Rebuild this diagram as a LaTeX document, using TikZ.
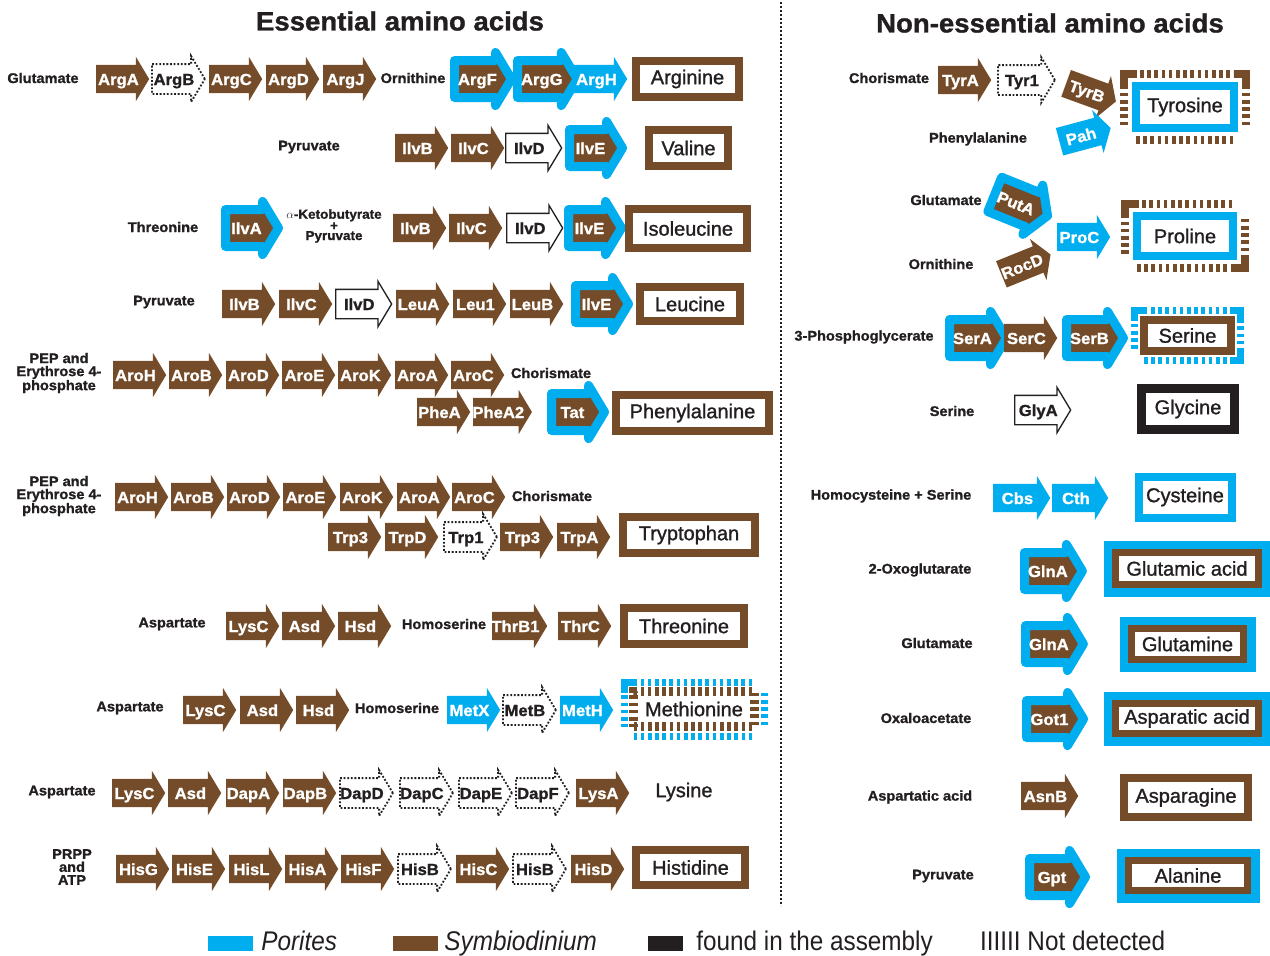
\documentclass[tikz,border=0pt]{standalone}
\usepackage{fontspec}
\setmainfont{Liberation Sans}
\newfontfamily\boxfont{Liberation Sans}[FakeBold=1.2]
\newfontfamily\heavyfont{Liberation Sans Bold}[FakeBold=1.2, FakeStretch=1.04]
\newfontfamily\legfont{Liberation Sans}[FakeStretch=0.9]
\usetikzlibrary{shapes.arrows,positioning}

\definecolor{porites}{RGB}{0,173,238}
\definecolor{symb}{RGB}{117,76,41}
\definecolor{ink}{RGB}{35,31,32}

\tikzset{
	enz/.style={single arrow, single arrow head extend=8pt, single arrow tip angle=118,
		minimum height=53pt, minimum width=0pt, inner xsep=-1pt, inner ysep=8pt,
		text height=12pt, text depth=0pt, text=white, anchor=west,
		font=\heavyfont\fontsize{16}{16}\selectfont},
	sym/.style={enz, fill=symb},
	por/.style={enz, fill=porites},
	both/.style={enz, fill=symb, draw=porites, line width=9pt, line join=round},
	asm/.style={enz, fill=white, draw=ink, line width=1.3pt, text=ink, minimum height=56pt},
	nd/.style={enz, fill=white, draw=ink, line width=1.8pt, dash pattern=on 1.8pt off 1.8pt, text=ink},
	met/.style={font=\heavyfont\fontsize{14}{13}\selectfont, align=center, text=ink, inner sep=0pt},
	title/.style={font=\heavyfont\fontsize{26.5}{27}\selectfont, text=ink},
	prod/.style={rectangle, inner sep=0pt, font=\boxfont\fontsize{20}{20}\selectfont, text=ink},
	sym box/.style={prod, fill=white, draw=symb, line width=8pt},
	por box/.style={prod, fill=white, draw=porites, line width=8pt},
	asm box/.style={prod, fill=white, draw=ink, line width=9pt},
	nd box/.style={prod, fill=white, draw=symb, line width=9pt, dash pattern=on 3.6pt off 3.6pt},
	por ring/.style={preaction={draw=porites, line width=24pt}},
	sym nd ring/.style={preaction={draw=symb, line width=32pt, dash pattern=on 3.6pt off 3.6pt},
		preaction={draw=white, solid, line width=16pt}},
	por nd ring/.style={preaction={draw=porites, line width=26pt, dash pattern=on 3.6pt off 3.6pt},
		preaction={draw=white, solid, line width=12pt}},
	swatch/.style={rectangle, inner sep=0pt, minimum width=45pt, minimum height=15pt},
	key/.style={inner sep=0pt, font=\legfont\fontsize{27}{27}\selectfont, text=ink,
		text height=18pt, text depth=5pt}
}

\begin{document}
\begin{tikzpicture}[x=1pt, y=-1pt]

	\useasboundingbox (0,0) rectangle (1270,956);

	\node[title] (ess) at (400,21) {Essential amino acids};
	\node[title] (ness) at (1050,23) {Non-essential amino acids};
	\coordinate (sepTop) at (781,2);
	\coordinate (sepBot) at (781,906);
	\draw[ink, line width=2pt, dash pattern=on 2pt off 2pt] (sepTop) -- (sepBot);

	% arginine
	\node[met] (gluR) at (43,78) {Glutamate};
	\foreach \s/\n/\t/\x in {sym/argA/ArgA/96, nd/argB/ArgB/151, sym/argC/ArgC/209, sym/argD/ArgD/266,
		sym/argJ/ArgJ/323, both/argF/ArgF/450, both/argG/ArgG/513, por/argH/ArgH/574}
		\node[\s] (\n) at (\x,79) {\t};
	\node[met] (ornR) at (413,78) {Ornithine};
	\node[sym box, minimum width=103pt, minimum height=36pt] (arg) at (687.5,79) {Arginine};

	% valine
	\node[met] (pyrV) at (309,147) {Pyruvate};
	\foreach \s/\n/\t/\x in {sym/valB/IlvB/395, sym/valC/IlvC/451, asm/valD/IlvD/505, both/valE/IlvE/565}
		\node[\s] (\n) at (\x,148) {\t};
	\node[sym box, minimum width=79pt, minimum height=36pt] (val) at (688.5,148) {Valine};

	% isoleucine
	\node[met] (thrI) at (163,227) {Threonine};
	\node[both] (ileA) at (221,228) {IlvA};
	\node[met, font=\heavyfont\fontsize{13}{10}\selectfont] (keto) at (334,226) {$\alpha$-Ketobutyrate\\+\\Pyruvate};
	\foreach \s/\n/\t/\x in {sym/ileB/IlvB/393, sym/ileC/IlvC/449, asm/ileD/IlvD/506, both/ileE/IlvE/564}
		\node[\s] (\n) at (\x,228) {\t};
	\node[sym box, minimum width=118pt, minimum height=39pt] (ile) at (688,228.5) {Isoleucine};

	% leucine
	\node[met] (pyrL) at (164,302) {Pyruvate};
	\foreach \s/\n/\t/\x in {sym/leuIB/IlvB/222, sym/leuIC/IlvC/279, asm/leuID/IlvD/335, sym/leuA/LeuA/396,
		sym/leu1/Leu1/453, sym/leuB/LeuB/510, both/leuIE/IlvE/571}
		\node[\s] (\n) at (\x,304) {\t};
	\node[sym box, minimum width=100pt, minimum height=34pt] (leu) at (690,304) {Leucine};

	% phenylalanine
	\node[met] (pepF) at (59,373) {PEP and\\Erythrose 4-\\phosphate};
	\foreach \s/\n/\t/\x in {sym/fAroH/AroH/113, sym/fAroB/AroB/169, sym/fAroD/AroD/226, sym/fAroE/AroE/282,
		sym/fAroK/AroK/338, sym/fAroA/AroA/395, sym/fAroC/AroC/451}
		\node[\s] (\n) at (\x,375) {\t};
	\node[met] (chF) at (551,373) {Chorismate};
	\foreach \s/\n/\t/\x in {sym/pheA/PheA/417, sym/pheA2/PheA2/473, both/tat/Tat/547}
		\node[\s] (\n) at (\x,412) {\t};
	\node[sym box, minimum width=153pt, minimum height=36pt] (phe) at (692.5,413) {Phenylalanine};

	% tryptophan
	\node[met] (pepW) at (59,496) {PEP and\\Erythrose 4-\\phosphate};
	\foreach \s/\n/\t/\x in {sym/wAroH/AroH/115, sym/wAroB/AroB/171, sym/wAroD/AroD/227, sym/wAroE/AroE/283,
		sym/wAroK/AroK/340, sym/wAroA/AroA/397, sym/wAroC/AroC/452}
		\node[\s] (\n) at (\x,497) {\t};
	\node[met] (chW) at (552,496) {Chorismate};
	\foreach \s/\n/\t/\x in {sym/trp3a/Trp3/328, sym/trpD/TrpD/385, nd/trp1/Trp1/443, sym/trp3b/Trp3/500,
		sym/trpA/TrpA/557}
		\node[\s] (\n) at (\x,537) {\t};
	\node[sym box, minimum width=132pt, minimum height=36pt] (trp) at (689,535) {Tryptophan};

	% threonine
	\node[met] (aspT) at (172,624) {Aspartate};
	\foreach \s/\n/\t/\x in {sym/tLysC/LysC/226, sym/tAsd/Asd/282, sym/tHsd/Hsd/338, sym/thrB1/ThrB1/492,
		sym/thrC/ThrC/558}
		\node[\s] (\n) at (\x,626) {\t};
	\node[met] (hseT) at (444,624) {Homoserine};
	\node[sym box, minimum width=120pt, minimum height=36pt] (thr) at (684,626) {Threonine};

	% methionine
	\node[met] (aspM) at (130,708) {Aspartate};
	\foreach \s/\n/\t/\x in {sym/mLysC/LysC/183, sym/mAsd/Asd/240, sym/mHsd/Hsd/296, por/metX/MetX/447,
		nd/metB/MetB/502, por/metH/MetH/560}
		\node[\s] (\n) at (\x,710) {\t};
	\node[met] (hseM) at (397,708) {Homoserine};
	\node[nd box, por nd ring, minimum width=121pt, minimum height=35pt] (met) at (694,709) {Methionine};

	% lysine
	\node[met] (aspK) at (62,792) {Aspartate};
	\foreach \s/\n/\t/\x in {sym/kLysC/LysC/112, sym/kAsd/Asd/168, sym/dapA/DapA/226, sym/dapB/DapB/283,
		nd/dapD/DapD/339, nd/dapC/DapC/399, nd/dapE/DapE/458, nd/dapF/DapF/515, sym/lysA/LysA/576}
		\node[\s] (\n) at (\x,793) {\t};
	\node[prod] (lys) at (684,792) {Lysine};

	% histidine
	\node[met] (prpp) at (72,867) {PRPP\\and\\ATP};
	\foreach \s/\n/\t/\x in {sym/hisG/HisG/116, sym/hisE/HisE/172, sym/hisL/HisL/229, sym/hisA/HisA/285,
		sym/hisF/HisF/341, nd/hisB1/HisB/397, sym/hisC/HisC/456, nd/hisB2/HisB/512, sym/hisD/HisD/571}
		\node[\s] (\n) at (\x,869) {\t};
	\node[sym box, minimum width=109pt, minimum height=35pt] (his) at (690.5,867.5) {Histidine};

	% tyrosine
	\node[met] (chY) at (889,78) {Chorismate};
	\node[sym] (tyrA) at (938,80) {TyrA};
	\node[nd, minimum height=57pt] (tyr1) at (997,80) {Tyr1};
	\node[sym, anchor=center, rotate=-20] (tyrB) at (1087,91) {TyrB};
	\node[met] (pheY) at (978,139) {Phenylalanine};
	\node[por, anchor=center, rotate=15] (pah) at (1081,136) {Pah};
	\node[por box, sym nd ring, minimum width=98pt, minimum height=42pt] (tyr) at (1185,107) {Tyrosine};

	% proline
	\node[met] (gluP) at (946,200) {Glutamate};
	\node[met] (ornP) at (941,264) {Ornithine};
	\node[both, anchor=center, rotate=-22] (putA) at (1016,203) {PutA};
	\node[sym, anchor=center, rotate=22] (rocD) at (1022,266) {RocD};
	\node[por] (proC) at (1057,237) {ProC};
	\node[por box, sym nd ring, minimum width=96pt, minimum height=40pt] (pro) at (1185,236) {Proline};

	% serine
	\node[met] (pgaS) at (864,337) {3-Phosphoglycerate};
	\foreach \s/\n/\t/\x in {both/serA/SerA/945, sym/serC/SerC/1004, both/serB/SerB/1062}
		\node[\s] (\n) at (\x,338) {\t};
	\node[sym box, por nd ring, minimum width=87pt, minimum height=31pt] (ser) at (1187.5,335.5) {Serine};

	% glycine
	\node[met] (serG) at (952,411) {Serine};
	\node[asm] (glyA) at (1014,410) {GlyA};
	\node[asm box, minimum width=93pt, minimum height=41pt] (gly) at (1188,409) {Glycine};

	% cysteine
	\node[met] (hcyC) at (891,496) {Homocysteine + Serine};
	\node[por, minimum height=57pt] (cbs) at (993,498) {Cbs};
	\node[por, minimum height=56pt] (cth) at (1052,498) {Cth};
	\node[por box, minimum width=93pt, minimum height=41pt] (cys) at (1185,497) {Cysteine};

	% glutamic acid
	\node[met] (oxoE) at (920,570) {2-Oxoglutarate};
	\node[both, minimum height=57pt] (glnA1) at (1020,571) {GlnA};
	\node[sym box, por ring, line width=7pt, minimum width=143pt, minimum height=32pt] (glu) at (1187,568.5) {Glutamic acid};

	% glutamine
	\node[met] (gluQ) at (937,643) {Glutamate};
	\node[both, minimum height=57pt] (glnA2) at (1021,644) {GlnA};
	\node[sym box, por ring, line width=7pt, minimum width=112pt, minimum height=31pt] (gln) at (1187.5,644) {Glutamine};

	% aspartic acid
	\node[met] (oaaD) at (926,718) {Oxaloacetate};
	\node[both, minimum height=57pt] (got1) at (1022,719) {Got1};
	\node[sym box, por ring, line width=7pt, minimum width=143pt, minimum height=30pt] (asp) at (1187,718.5) {Asparatic acid};

	% asparagine
	\node[met] (aspN) at (920,797) {Aspartatic acid};
	\node[sym, minimum height=57pt] (asnB) at (1021,796) {AsnB};
	\node[sym box, minimum width=124pt, minimum height=39pt] (asn) at (1186,797.5) {Asparagine};

	% alanine
	\node[met] (pyrA) at (943,876) {Pyruvate};
	\node[both, minimum height=56pt] (gpt) at (1025,877) {Gpt};
	\node[sym box, por ring, line width=7pt, minimum width=119pt, minimum height=30pt] (ala) at (1188,875.5) {Alanine};

	% legend
	\node[swatch, fill=porites] (keyPor) at (230.5,943.5) {};
	\node[key, right=8pt of keyPor] (keyPorT) {\itshape Porites};
	\node[swatch, fill=symb] (keySym) at (415.5,943.5) {};
	\node[key, right=6pt of keySym] (keySymT) {\itshape Symbiodinium};
	\node[swatch, fill=ink, minimum width=35pt] (keyAsm) at (665.5,943.5) {};
	\node[key, right=13pt of keyAsm] (keyAsmT) {found in the assembly};
	\node[key, anchor=west] (keyNd) at (980,943.5) {IIIIII Not detected};

\end{tikzpicture}
\end{document}
